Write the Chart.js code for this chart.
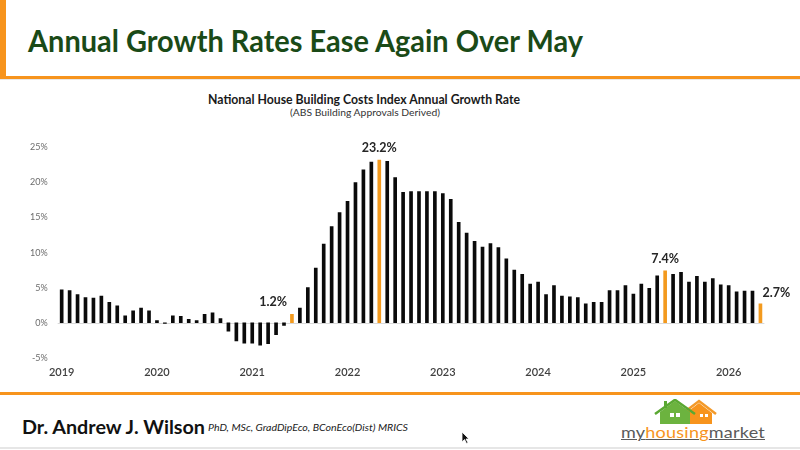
<!DOCTYPE html>
<html>
<head>
<meta charset="utf-8">
<script src="https://cdn.jsdelivr.net/npm/chart.js@4.4.1/dist/chart.umd.min.js"></script>
<style>
  html, body { margin:0; padding:0; background:#fff; width:800px; height:450px; overflow:hidden; font-family: Lato, "Open Sans", sans-serif; }
  .abs { position:absolute; white-space:nowrap; }
  .fit { transform-origin: left center; display:inline-block; }
</style>
</head>
<body>
<!-- frame decorations -->
<div class="abs" style="left:0;top:0;width:6px;height:78px;background:#f7941d;"></div>
<div class="abs" style="left:0;top:76px;width:800px;height:3px;background:#f7941d;"></div>
<div class="abs" style="left:0;top:79px;width:800px;height:1px;background:#e8e8e8;"></div>
<div class="abs" style="left:0;top:392px;width:800px;height:3px;background:#f7941d;"></div>
<div class="abs" style="left:0;top:447px;width:800px;height:2px;background:#e6e6e6;"></div>

<div class="abs fit" id="title" data-w="555" style="left:28px;top:22px;font-size:30px;font-weight:700;color:#1a4a17;">Annual Growth Rates Ease Again Over May</div>

<div class="abs fit" id="ctitle" data-w="312" style="left:208px;top:92px;font-size:12.5px;font-weight:700;color:#1a1a1a;">National House Building Costs Index Annual Growth Rate</div>
<div class="abs fit" id="csub" data-w="150" style="left:290px;top:107px;font-size:9.5px;color:#333;">(ABS Building Approvals Derived)</div>

<div class="abs" style="left:0;top:130px;width:800px;height:255px;"><canvas id="c"></canvas></div>

<div class="abs fit" id="name" data-w="183" style="left:22px;top:415px;font-size:19px;font-weight:700;color:#111;">Dr. Andrew J. Wilson</div>
<div class="abs fit" id="cred" data-w="200" style="left:208px;top:421px;font-size:10px;font-style:italic;color:#222;">PhD, MSc, GradDipEco, BConEco(Dist) MRICS</div>

<!-- cursor -->
<svg class="abs" style="left:461px;top:431px;" width="10" height="14" viewBox="0 0 10 14">
  <polygon points="1,1 1,11 3.5,8.5 5.5,12.5 7,11.8 5,8 8,8" fill="#111" stroke="#fff" stroke-width="0.8"/>
</svg>

<!-- logo -->
<svg class="abs" style="left:650px;top:399px;" width="70" height="26" viewBox="0 0 70 26">
  <polygon points="36,25 36,14 49,4 62,14 62,25" fill="#f7941d"/>
  <polyline points="32,15 49,2 66,15" fill="none" stroke="#f39a2a" stroke-width="2.5"/>
  <polygon points="10,25 10,13 25,2 40,13 40,25" fill="#6cb33f"/>
  <polyline points="5,15 25,0.8 45,15" fill="none" stroke="#5aa832" stroke-width="2.5"/>
  <rect x="14" y="2" width="3" height="7" fill="#5aa832"/>
  <rect x="20" y="14" width="4" height="4" fill="#fff"/><rect x="26" y="14" width="4" height="4" fill="#fff"/>
  <rect x="50" y="15" width="3" height="3" fill="#fff"/><rect x="55" y="15" width="3" height="3" fill="#fff"/>
</svg>
<div class="abs fit" id="logo" data-w="144" style="left:621px;top:423px;font-size:15px;color:#5a5a5a;text-decoration:underline;text-decoration-thickness:1px;letter-spacing:0.2px;">my<span style="color:#f7941d;">housing</span>market</div>

<script>
// ---- data ----
const yearLabels = ['2019','2020','2021','2022','2023','2024','2025','2026'];
const monthNames = ['Jan','Feb','Mar','Apr','May','Jun','Jul','Aug','Sep','Oct','Nov','Dec'];
const growthRate = [
  4.7, 4.6, 4.0, 3.6, 3.5, 3.8, 2.9, 2.4, 1.0, 1.7, 2.1, 1.7,
  0.3, -0.1, 1.0, 0.9, 0.5, 0.3, 1.2, 1.4, 0.6, -1.2, -2.6, -2.9,
  -2.9, -3.2, -3.0, -1.7, -0.4, 1.2, 2.1, 5.0, 7.8, 11.2, 13.7, 15.7,
  17.3, 20.0, 21.8, 22.9, 23.2, 23.0, 20.7, 18.6, 18.7, 18.7, 18.7, 18.7,
  18.4, 17.6, 14.3, 12.8, 11.6, 10.8, 11.3, 10.7, 9.1, 7.5, 6.9, 5.5,
  5.8, 4.0, 5.3, 3.8, 3.7, 3.6, 2.7, 2.9, 2.9, 4.6, 4.6, 5.3,
  4.1, 5.5, 4.9, 6.7, 7.4, 6.9, 7.2, 5.8, 6.6, 5.8, 6.3, 5.4,
  5.3, 4.4, 4.5, 4.5, 2.7
];
const highlightIdx = [29, 40, 76, 88];
const yTicks = [-5, 0, 5, 10, 15, 20, 25];

const categories = [];
for (let i = 0; i < growthRate.length; i++) {
  categories.push(monthNames[i % 12] + ' ' + yearLabels[Math.floor(i / 12)]);
}

// fit texts horizontally
document.querySelectorAll('.fit').forEach(el => {
  const w = el.getBoundingClientRect().width;
  const t = parseFloat(el.dataset.w);
  if (w > 0 && t) el.style.transform = 'scaleX(' + (t / w) + ')';
});

const ORANGE = '#f39a1e';
const colors = growthRate.map((v, i) => highlightIdx.includes(i) ? ORANGE : '#0a0a0a');

const annot = {
  id: 'annot',
  beforeDatasetsDraw(chart) {
    const {ctx, chartArea, scales} = chart;
    const y0 = scales.y.getPixelForValue(0);
    ctx.save();
    ctx.strokeStyle = '#d9d9d9';
    ctx.lineWidth = 1;
    ctx.beginPath();
    ctx.moveTo(chartArea.left, Math.round(y0) + 0.5);
    ctx.lineTo(chartArea.right, Math.round(y0) + 0.5);
    ctx.stroke();
    ctx.restore();
  },
  afterDatasetsDraw(chart) {
    const {ctx, scales} = chart;
    ctx.save();
    ctx.fillStyle = '#262626';
    ctx.font = 'bold 12.5px Lato, sans-serif';
    ctx.textBaseline = 'middle';
    highlightIdx.forEach((i, k) => {
      const v = growthRate[i];
      const x = scales.x.getPixelForValue(i);
      const y = scales.y.getPixelForValue(v);
      const txt = v.toFixed(1) + '%';
      if (k === 0) { ctx.textAlign = 'right'; ctx.fillText(txt, x - 5, y - 12); }
      else if (k === highlightIdx.length - 1) { ctx.textAlign = 'left'; ctx.fillText(txt, x + 2, y - 11); }
      else { ctx.textAlign = 'center'; ctx.fillText(txt, x, y - 12); }
    });
    ctx.restore();
  }
};

new Chart(document.getElementById('c'), {
  type: 'bar',
  data: {
    labels: categories,
    datasets: [{
      data: growthRate,
      backgroundColor: colors,
      barThickness: 3,
      borderWidth: 0
    }]
  },
  options: {
    responsive: true,
    maintainAspectRatio: false,
    animation: false,
    devicePixelRatio: 1,
    layout: { padding: { left: 0, right: 35.6, top: 17.4, bottom: 0 } },
    plugins: { legend: { display: false }, tooltip: { enabled: false } },
    scales: {
      x: {
        offset: true,
        grid: { display: false, drawTicks: false },
        border: { display: false },
        ticks: {
          autoSkip: false, maxRotation: 0, minRotation: 0, padding: 8,
          color: '#404040', font: { family: 'Lato', size: 11, weight: '600' },
          callback: (val, idx) => idx % 12 === 0 ? yearLabels[idx / 12] : ''
        },
        afterFit: s => { s.height = 27.2; }
      },
      y: {
        min: -5, max: 25,
        afterBuildTicks: s => { s.ticks = yTicks.map(v => ({ value: v })); },
        grid: { display: false, drawTicks: false },
        border: { display: false },
        ticks: {
          padding: 10, color: '#6b6b6b', font: { family: 'Lato', size: 9 },
          callback: v => v + '%'
        },
        afterFit: s => { s.width = 57.7; }
      }
    }
  },
  plugins: [annot]
});
</script>
</body>
</html>
